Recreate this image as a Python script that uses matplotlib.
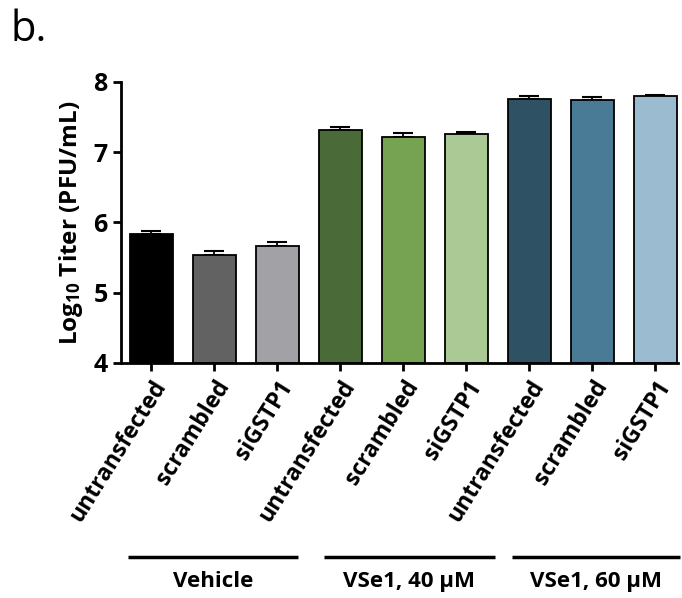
import matplotlib
matplotlib.use('Agg')
import matplotlib.pyplot as plt
import numpy as np

plt.rcParams['font.family'] = ['Open Sans', 'DejaVu Sans']
plt.rcParams['font.weight'] = 'bold'
plt.rcParams['mathtext.fontset'] = 'custom'
plt.rcParams['mathtext.rm'] = 'Open Sans:bold'
plt.rcParams['mathtext.default'] = 'rm'

# titers per condition (log10 PFU/mL) and SEM
conditions = ['untransfected', 'scrambled', 'siGSTP1'] * 3
titers = [5.84, 5.54, 5.66, 7.31, 7.22, 7.25, 7.76, 7.74, 7.79]
sem = [0.04, 0.05, 0.06, 0.05, 0.05, 0.03, 0.04, 0.04, 0.02]
groups = ['Vehicle', 'VSe1, 40 μM', 'VSe1, 60 μM']
colors = ['#000000', '#626262', '#a2a1a6',
          '#4a6b37', '#76a352', '#abc995',
          '#2e5163', '#4a7b96', '#9abbd0']

fig = plt.figure(figsize=(6.82, 5.98), dpi=100)
ax = fig.add_axes([0.1774, 0.393, 0.8166, 0.4704])

x = np.arange(len(titers))
ax.bar(x, np.array(titers) - 4, bottom=4, width=0.68, color=colors,
       edgecolor='black', linewidth=1.3, zorder=2)
ax.errorbar(x, titers, yerr=[np.zeros(len(sem)), sem], fmt='none',
            ecolor='black', elinewidth=1.3, capsize=7.5, capthick=1.5, zorder=1)

ax.set_xlim(-0.484, 8.36)
ax.set_ylim(4, 8)
ax.set_yticks([4, 5, 6, 7, 8])
ax.set_xticks(x)
ax.set_xticklabels(conditions, rotation=58, ha='right', rotation_mode='anchor',
                   fontsize=16.5, fontweight='bold')
ax.tick_params(axis='y', labelsize=18, width=2, length=6, direction='out')
ax.tick_params(axis='x', width=2, length=6, direction='out')
for s in ['top', 'right']:
    ax.spines[s].set_visible(False)
for s in ['left', 'bottom']:
    ax.spines[s].set_linewidth(2)

ax.set_ylabel(r'Log$_{10}$ Titer (PFU/mL)', fontsize=17.5, fontweight='bold', labelpad=6)

# group bars and labels under the tick labels
trans = ax.get_xaxis_transform()
spans = [(-0.37, 2.33), (2.74, 5.45), (5.72, 8.40)]
for (x0, x1), name in zip(spans, groups):
    ax.plot([x0, x1], [-0.69, -0.69], color='black', lw=2.5, transform=trans,
            clip_on=False, solid_capstyle='butt')
    ax.text((x0 + x1) / 2, -0.74, name, transform=trans, ha='center', va='top',
            fontsize=16, fontweight='bold')

fig.text(0.015, 0.985, 'b.', fontsize=30, fontweight='normal', ha='left', va='top')

fig.savefig('out.png', dpi=100)
